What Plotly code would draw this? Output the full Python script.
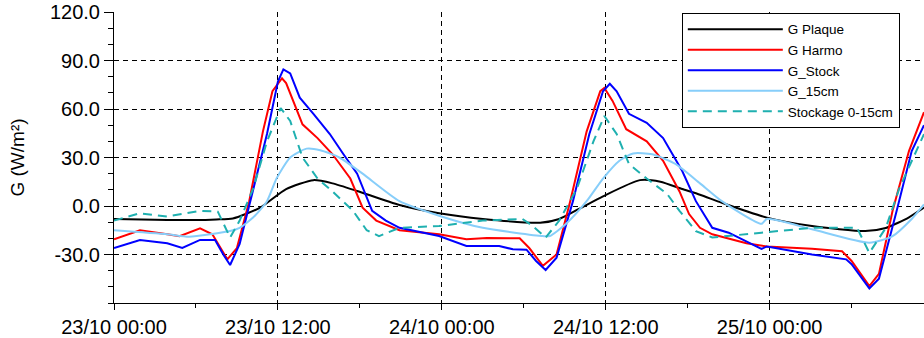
import pandas as pd
import plotly.graph_objects as go

base = pd.Timestamp("2011-10-23 00:00")

# hours after 23/10 00:00 and values (W/m²)
plaque_h = [0, 3, 6, 7.5, 8.7, 10.7, 12.6, 14.6, 16, 17.8, 20.9, 23.8, 27, 31.2, 32.6, 34, 35.8,
            38.5, 40, 41.6, 42.9, 44.5, 47.8, 51.1, 55, 56.5, 58.2, 59.3]
plaque_v = [-8, -8.5, -8.7, -8.3, -7.7, -1, 10.5, 16, 14, 9.3, 0.6, -4.5, -8, -10.3, -8, -2, 6,
            16, 15, 10.5, 7, 2, -7.2, -12.4, -15.5, -13.6, -7, -1]

harmo_h = [0, 1.9, 3.9, 4.8, 6.3, 7.2, 8.3, 9, 9.9, 10.9, 11.6, 12.3, 12.6, 13.8, 14.9, 16, 17.3,
           18.2, 19.2, 20.9, 23.8, 25.8, 27.3, 29.7, 30.4, 31.4, 32.4, 33.4, 34.6, 35.6, 35.9,
           36.5, 37.5, 39, 40.2, 41.4, 42.1, 42.9, 43.8, 46.3, 47.8, 51.1, 53.3, 54, 55.3, 56,
           57, 58.2, 59.3]
harmo_v = [-20.6, -15, -17.5, -18.7, -13.8, -17.5, -33, -26, 3, 46, 71, 79, 76, 50.5, 42, 32, 17,
           -1, -9, -15, -17.5, -20.6, -19.8, -20, -26, -37, -30, 3, 46, 71, 73,
           65, 47.5, 40, 28, 9, -5, -13.5, -17.5, -23, -25, -26.4, -28, -34, -49.5, -42,
           -3, 34, 58]

stock_h = [0, 1.9, 3.9, 5, 6.3, 7.4, 8, 8.5, 9.2, 10.2, 11.2, 12, 12.4, 12.9, 13.6, 14.6, 15.8,
           16.8, 17.8, 18.9, 19.9, 20.9, 23.8, 25.8, 28.2, 29.2, 30.2, 30.9, 31.6, 32.4, 33.6,
           34.8, 35.8, 36.3, 36.8, 37.7, 39, 40.2, 41.6, 42.6, 43.8, 45, 47.4, 47.8, 51.1,
           53.6, 54, 55.3, 56, 57.3, 58.4, 59.3]
stock_v = [-26, -21, -23, -26, -21, -21, -30, -36.5, -23.5, 11, 44.5, 77, 84.5, 82, 67, 57, 44.5,
           32, 20, -3, -9, -13.5, -18.6, -24.7, -24.7, -26.8, -27, -34, -39.6, -32, 3,
           44.5, 71, 75.6, 71, 57, 51.5, 42, 21.6, 3, -13.5, -16.5, -26.6, -25, -30,
           -33, -36, -51, -45, -3, 34, 50]

g15_h = [0, 3.9, 5.5, 8.5, 9.2, 10.2, 11.2, 11.9, 12.9, 14.1, 15.1, 16.5, 18.2, 20.9, 23.8, 27,
         31.4, 31.9, 33.1, 34.6, 35.8, 37, 38, 39.4, 41.1, 42.9, 44.5, 47.4, 47.8, 51.1, 55.3,
         57, 58.4, 59.3]
g15_v = [-15, -17.5, -19, -15.5, -13.5, -7, 3, 17, 30, 35.5, 34.5, 30, 20, 3, -6, -13.5,
         -18.6, -18.6, -11, 3, 17, 28, 32.5, 32, 26, 14, 3, -11, -8, -14.4, -22.7,
         -18.6, -8, 1]

stk_h = [0, 1.9, 3.9, 6.3, 7.6, 8.5, 9.2, 10.2, 11.2, 12.2, 12.9, 13.8, 14.9, 16, 17.5, 18.5,
         19.4, 20.9, 23.8, 27, 29.9, 30.6, 31.6, 32.6, 33.9, 35.1, 35.9, 36.8, 37.7, 39, 40.5,
         41.4, 42.6, 43.8, 47.4, 51.1, 54.4, 55.3, 56.5, 57.5, 59.3]
stk_v = [-9, -4.5, -6.5, -3, -3.5, -19.5, -9, 11, 40, 60.6, 52.6, 30, 17, 9, -3, -15,
         -18.6, -13.5, -12.4, -9, -8, -12, -19.5, -9, 11, 40, 55.7, 44.5, 26, 17, 7.4,
         -3, -15.5, -19.5, -16.5, -13.5, -13.5, -29, -13.6, 11, 44.5]

y_ticks = [-30, 0, 30, 60, 90, 120]
x_end_h = 59.3


def to_time(hours):
    return [base + pd.Timedelta(hours=h) for h in hours]


series = [
    ("G Plaque", plaque_h, plaque_v, "#000000", "solid", "spline"),
    ("G Harmo", harmo_h, harmo_v, "#ff0000", "solid", "linear"),
    ("G_Stock", stock_h, stock_v, "#0000ff", "solid", "linear"),
    ("G_15cm", g15_h, g15_v, "#87cefa", "solid", "spline"),
    ("Stockage 0-15cm", stk_h, stk_v, "#1fb0b0", "9px,6px", "linear"),
]

fig = go.Figure()
for name, hh, vv, col, dash, shape in series:
    fig.add_trace(go.Scatter(
        x=to_time(hh), y=vv, mode="lines", name=name,
        line=dict(color=col, width=2, dash=dash, shape=shape, smoothing=0.6),
    ))

font_main = "Liberation Sans, Arial, sans-serif"

fig.update_layout(
    width=924, height=338,
    margin=dict(l=114, r=0, t=12, b=35),
    paper_bgcolor="white", plot_bgcolor="white",
    font=dict(family=font_main, color="black"),
    showlegend=True,
    legend=dict(
        x=0.701, y=0.997, xanchor="left", yanchor="top",
        bgcolor="white", bordercolor="black", borderwidth=1,
        font=dict(size=13.5, family=font_main, color="black"),
        itemwidth=95, tracegroupgap=0,
    ),
    xaxis=dict(
        type="date",
        range=[base, base + pd.Timedelta(hours=x_end_h)],
        tick0=base, dtick=12 * 3600 * 1000,
        tickformat="%d/%m %H:%M",
        tickfont=dict(size=20, family=font_main, color="black"),
        showline=True, linecolor="black", linewidth=1,
        ticks="outside", ticklen=6, tickcolor="black",
        showgrid=True, gridcolor="black", griddash="5px,4px", gridwidth=1,
        minor=dict(dtick=6 * 3600 * 1000, ticks="outside", ticklen=4, tickcolor="black", showgrid=False),
        zeroline=False,
    ),
    yaxis=dict(
        range=[-60, 120],
        tickmode="array", tickvals=y_ticks,
        ticktext=[f"{v:.1f}" for v in y_ticks],
        tickfont=dict(size=20, family=font_main, color="black"),
        showline=True, linecolor="black", linewidth=1,
        ticks="outside", ticklen=9, tickcolor="black",
        showgrid=True, gridcolor="black", griddash="5px,4px", gridwidth=1,
        minor=dict(dtick=10, tick0=0, ticks="outside", ticklen=5, tickcolor="black", showgrid=False),
        zeroline=False,
        title=dict(text="G (W/m²)", font=dict(size=19, family=font_main, color="black"), standoff=20),
    ),
)

fig.write_html("out.html")
